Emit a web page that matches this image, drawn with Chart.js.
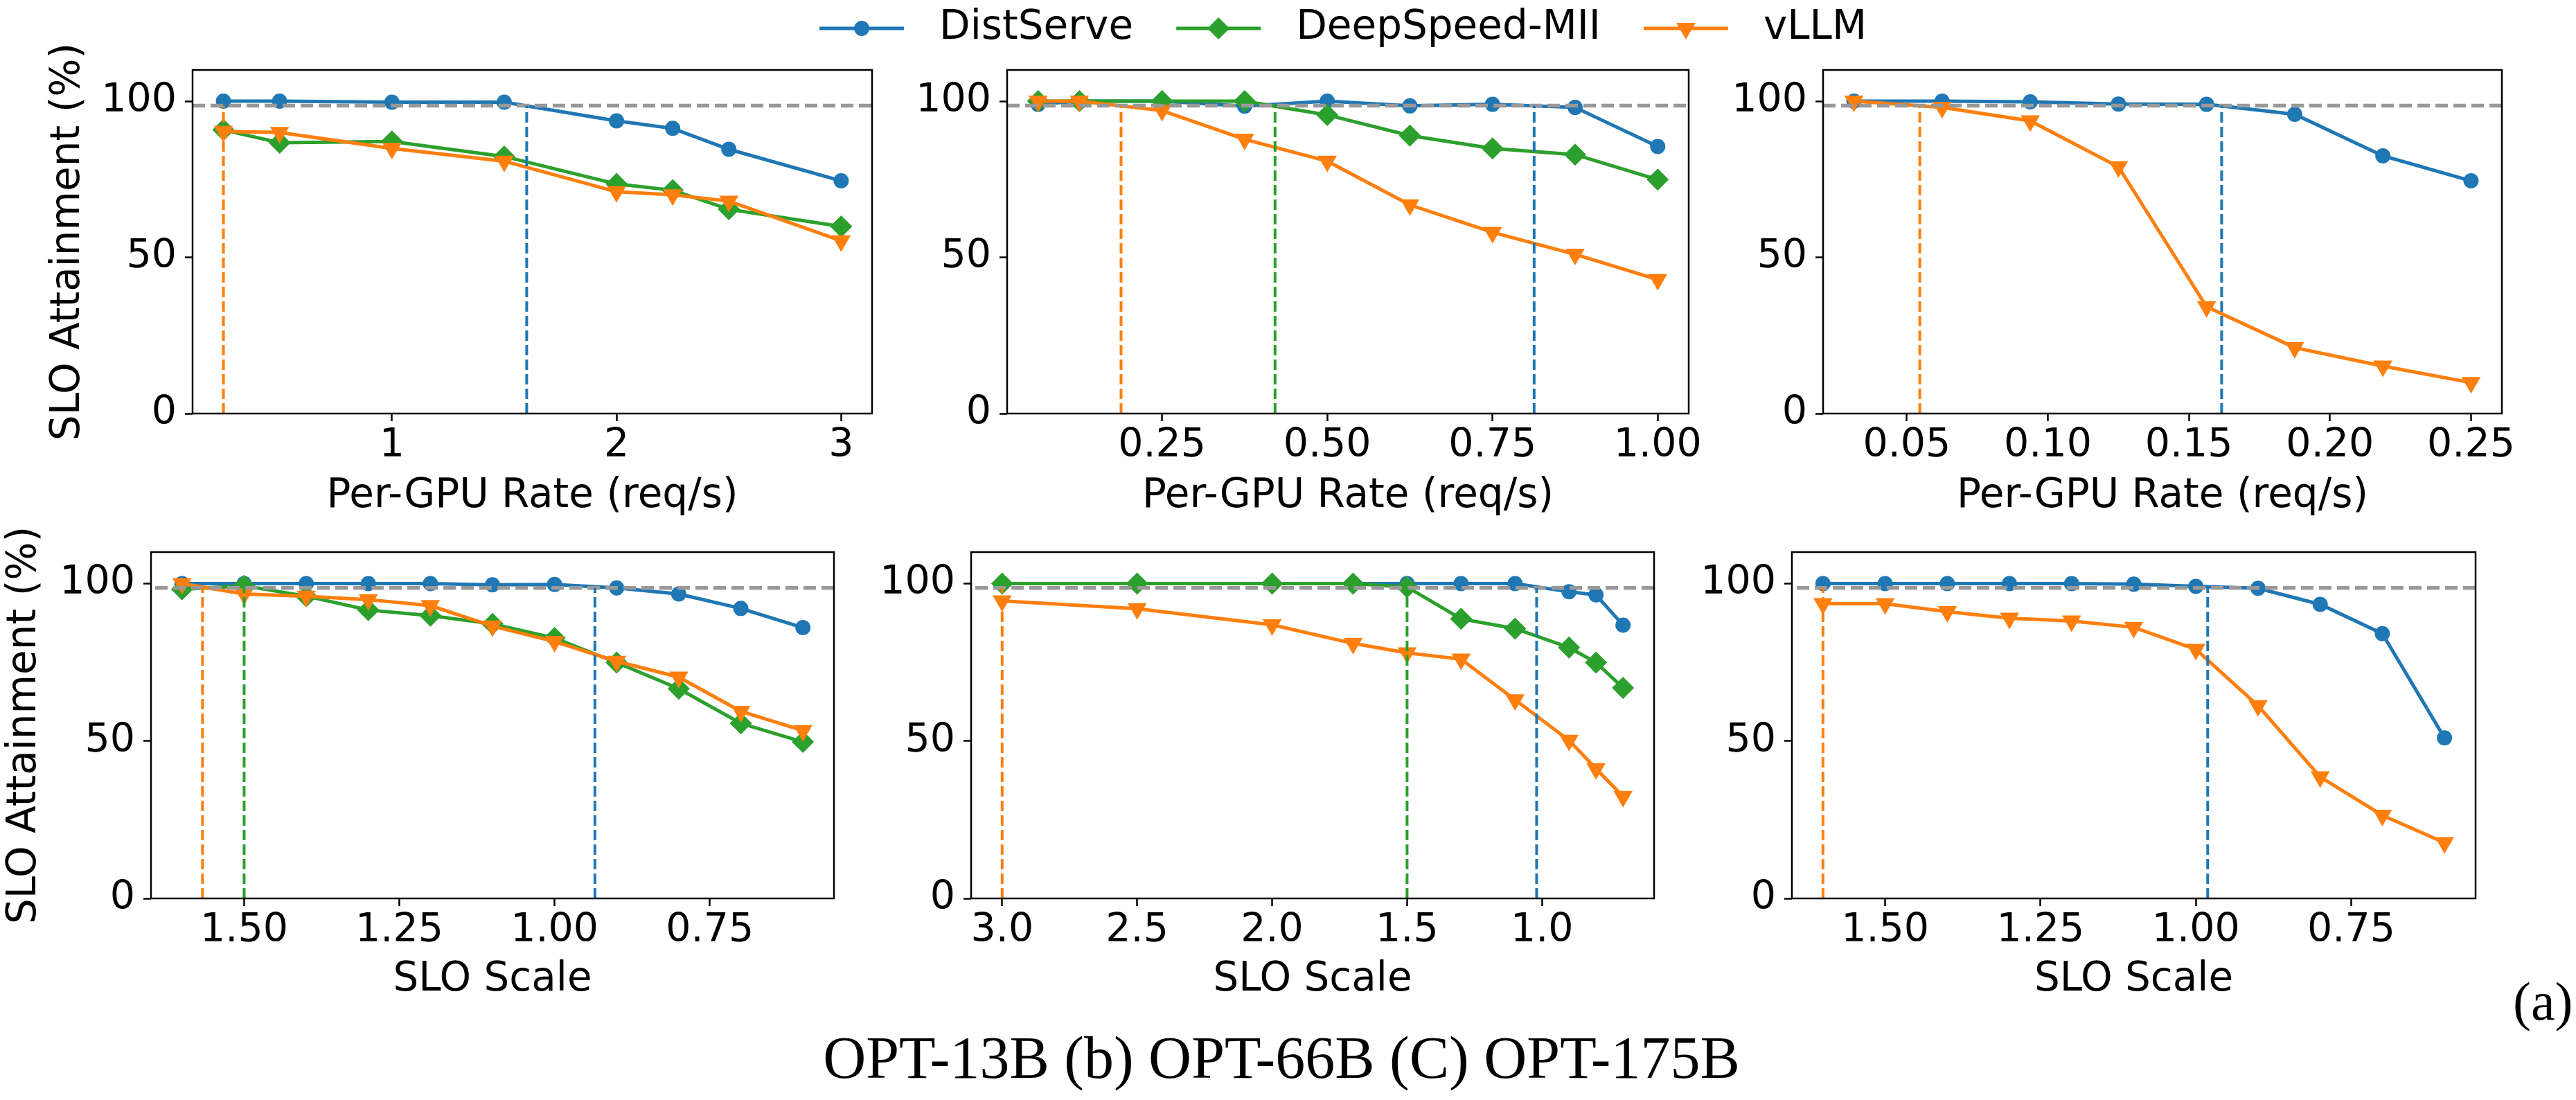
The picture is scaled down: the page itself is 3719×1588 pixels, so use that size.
<!DOCTYPE html>
<html>
<head>
<meta charset="utf-8">
<script src="https://cdn.jsdelivr.net/npm/chart.js@4.4.1/dist/chart.umd.min.js"></script>
<style>
  html, body { margin: 0; padding: 0; background: #fff; }
  body { width: 3719px; height: 1588px; position: relative; overflow: hidden; }
  .panel { position: absolute; }
  .caption { position: absolute; font-family: 'Liberation Serif', 'DejaVu Serif', serif; color: #000; line-height: 1; white-space: nowrap; }
</style>
</head>
<body>
<div class="caption" style="left:3628px; top:1407px; font-size:78px;">(a)</div>
<div class="caption" style="left:1850px; top:1484px; font-size:86px; transform:translateX(-50%);">OPT-13B (b) OPT-66B (C) OPT-175B</div>
<script>
const SERIES = ['DistServe', 'DeepSpeed-MII', 'vLLM'];
const COLORS = ['#1f77b4', '#2ca02c', '#ff7f0e'];
const SLO_TARGET = 98.6;
const yTickLabels = ['0', '50', '100'];

// OPT-13B, per-GPU rate
const rate13B = [0.25, 0.5, 1, 1.5, 2, 2.25, 2.5, 3];
const rate13BDist = [100, 100, 99.7, 99.7, 93.7, 91.3, 84.6, 74.5];
const rate13BDs = [90.8, 86.7, 87.1, 82.3, 73.5, 71.5, 65.4, 59.9];
const rate13BVllm = [90.3, 90.0, 84.9, 80.8, 71.0, 70.0, 68.0, 55.3];
const rate13BCut = [1.6, null, 0.25];
const rate13BTicks = ['1', '2', '3'];

// OPT-66B, per-GPU rate
const rate66B = [0.0625, 0.125, 0.25, 0.375, 0.5, 0.625, 0.75, 0.875, 1.0];
const rate66BDist = [99, 100, 100, 98.4, 100, 98.5, 99, 98, 85.5];
const rate66BDs = [100, 100, 100, 100, 95.6, 89, 84.9, 82.9, 74.9];
const rate66BVllm = [100, 100, 97, 87.8, 80.8, 66.8, 58, 51, 42.9];
const rate66BCut = [0.813, 0.421, 0.188];
const rate66BTicks = ['0.25', '0.50', '0.75', '1.00'];

// OPT-175B, per-GPU rate
const rate175B = [0.03125, 0.0625, 0.09375, 0.125, 0.15625, 0.1875, 0.21875, 0.25];
const rate175BDist = [100, 100, 99.8, 99.1, 99, 95.8, 82.5, 74.5];
const rate175BVllm = [100, 98, 93.7, 79, 34.2, 21.1, 15.2, 9.9];
const rate175BCut = [0.1616, null, 0.0546];
const rate175BTicks = ['0.05', '0.10', '0.15', '0.20', '0.25'];

// OPT-13B, SLO scale
const scale13B = [1.6, 1.5, 1.4, 1.3, 1.2, 1.1, 1.0, 0.9, 0.8, 0.7, 0.6];
const scale13BDist = [100, 100, 100, 100, 100, 99.6, 99.7, 98.6, 96.7, 92.1, 86];
const scale13BDs = [98.2, 99.3, 96, 91.6, 89.8, 87.2, 82.7, 74.9, 66.6, 55.6, 49.7];
const scale13BVllm = [100, 96.7, 96, 94.9, 93, 86.5, 81.6, 75.3, 70.3, 59.4, 53.3];
const scale13BCut = [0.935, 1.5, 1.567];
const scale13BTicks = ['1.50', '1.25', '1.00', '0.75'];

// OPT-66B, SLO scale
const scale66B = [3.0, 2.5, 2.0, 1.7, 1.5, 1.3, 1.1, 0.9, 0.8, 0.7];
const scale66BDist = [100, 100, 100, 100, 100, 100, 100, 97.4, 96.4, 86.8];
const scale66BDs = [100, 100, 100, 100, 98.9, 88.8, 85.7, 79.7, 74.9, 66.9];
const scale66BVllm = [94.5, 92, 86.9, 81, 78, 76, 63.1, 50.2, 41.2, 32.4];
const scale66BCut = [1.02, 1.5, 3.0];
const scale66BTicks = ['3.0', '2.5', '2.0', '1.5', '1.0'];

// OPT-175B, SLO scale
const scale175B = [1.6, 1.5, 1.4, 1.3, 1.2, 1.1, 1.0, 0.9, 0.8, 0.7, 0.6];
const scale175BDist = [100, 100, 100, 100, 100, 99.8, 99.1, 98.5, 93.4, 84.1, 51];
const scale175BVllm = [93.6, 93.6, 91.1, 89, 88.1, 86.1, 79.1, 61.2, 38.6, 26.4, 17.7];
const scale175BCut = [0.981, null, 1.6];
const scale175BTicks = ['1.50', '1.25', '1.00', '0.75'];

const MARKERS = [
    {style: 'circle', rotation: 0, radius: 11},
    {style: 'rectRot', rotation: 0, radius: 16},
    {style: 'triangle', rotation: 180, radius: 16},
];

Chart.defaults.font.family = "'DejaVu Sans', sans-serif";
Chart.defaults.color = '#000';

const RATE_TITLE = 'Per-GPU Rate (req/s)';
const SCALE_TITLE = 'SLO Scale';

// box = plot area [left, top, right, bottom] in page pixels
const panels = [
    {box: [278, 101, 1259, 597], x: rate13B, series: [rate13BDist, rate13BDs, rate13BVllm], cut: rate13BCut, ticks: rate13BTicks, xTitle: RATE_TITLE, yTitlePad: 64, xAxisH: 155},
    {box: [1454, 101, 2438, 597], x: rate66B, series: [rate66BDist, rate66BDs, rate66BVllm], cut: rate66BCut, ticks: rate66BTicks, xTitle: RATE_TITLE, xAxisH: 155},
    {box: [2632, 101, 3612, 597], x: rate175B, series: [rate175BDist, null, rate175BVllm], cut: rate175BCut, ticks: rate175BTicks, xTitle: RATE_TITLE, xAxisH: 155},
    {box: [218, 797, 1204, 1297], x: scale13B, series: [scale13BDist, scale13BDs, scale13BVllm], cut: scale13BCut, ticks: scale13BTicks, xTitle: SCALE_TITLE, yTitlePad: 1, xAxisH: 153, reverse: true},
    {box: [1402, 797, 2388, 1297], x: scale66B, series: [scale66BDist, scale66BDs, scale66BVllm], cut: scale66BCut, ticks: scale66BTicks, xTitle: SCALE_TITLE, xAxisH: 153, reverse: true},
    {box: [2587, 797, 3574, 1297], x: scale175B, series: [scale175BDist, null, scale175BVllm], cut: scale175BCut, ticks: scale175BTicks, xTitle: SCALE_TITLE, xAxisH: 153, reverse: true},
];

const frame = {
    id: 'frame',
    afterDatasetsDraw(chart) {
        const {ctx, chartArea: a} = chart;
        ctx.save();
        ctx.strokeStyle = '#000';
        ctx.lineWidth = 2.5;
        ctx.strokeRect(a.left, a.top, a.right - a.left, a.bottom - a.top);
        ctx.restore();
    }
};

function addCanvas(left, top, width, height) {
    const div = document.createElement('div');
    div.className = 'panel';
    div.style.left = left + 'px';
    div.style.top = top + 'px';
    div.style.width = width + 'px';
    div.style.height = height + 'px';
    const canvas = document.createElement('canvas');
    div.appendChild(canvas);
    document.body.appendChild(div);
    return canvas;
}

function makePanel(p) {
    const [left, top, right, bottom] = p.box;
    const hasYTitle = p.yTitlePad !== undefined;
    const axisW = hasYTitle ? left : 140;
    const padTop = 60, padRight = 40;
    const canvas = addCanvas(left - axisW, top - padTop, axisW + right - left + padRight, padTop + bottom - top + p.xAxisH);

    const lo = Math.min(...p.x), hi = Math.max(...p.x);
    const xMin = lo - 0.05 * (hi - lo);
    const xMax = hi + 0.05 * (hi - lo);

    const datasets = [];
    p.series.forEach((vals, i) => {
        if (!vals) return;
        datasets.push({
            label: SERIES[i],
            data: p.x.map((x, k) => ({x: x, y: vals[k]})),
            borderColor: COLORS[i],
            backgroundColor: COLORS[i],
            borderWidth: 5,
            pointStyle: MARKERS[i].style,
            pointRotation: MARKERS[i].rotation,
            pointRadius: MARKERS[i].radius,
            pointBackgroundColor: COLORS[i],
            pointBorderWidth: 0,
            tension: 0,
            order: 3 - i,
        });
    });
    // capacity markers: vertical dashes up to the attainment target
    p.cut.forEach((c, i) => {
        if (c === null) return;
        datasets.push({
            data: [{x: c, y: 0}, {x: c, y: SLO_TARGET}],
            borderColor: COLORS[i],
            borderWidth: 4,
            borderDash: [15, 6],
            pointRadius: 0,
            order: 0,
        });
    });
    datasets.push({
        data: [{x: xMin, y: SLO_TARGET}, {x: xMax, y: SLO_TARGET}],
        borderColor: '#999999',
        borderWidth: 5.5,
        borderDash: [18, 8],
        pointRadius: 0,
        order: 0,
    });

    const tickGrid = {drawOnChartArea: false, tickLength: 11, tickWidth: 2.5, tickColor: '#000'};

    return new Chart(canvas, {
        type: 'line',
        data: {datasets: datasets},
        options: {
            responsive: true,
            maintainAspectRatio: false,
            animation: false,
            events: [],
            layout: {padding: {top: padTop, right: padRight, bottom: 0, left: 0}},
            plugins: {legend: {display: false}, tooltip: {enabled: false}},
            scales: {
                x: {
                    type: 'linear',
                    min: xMin,
                    max: xMax,
                    reverse: !!p.reverse,
                    afterBuildTicks: s => { s.ticks = p.ticks.map(t => ({value: Number(t)})); },
                    afterFit: s => { s.height = p.xAxisH; },
                    border: {display: false},
                    grid: tickGrid,
                    ticks: {
                        padding: 2, maxRotation: 0, autoSkip: false, font: {size: 57},
                        callback: v => p.ticks[p.ticks.map(Number).indexOf(v)],
                    },
                    title: {display: true, text: p.xTitle, font: {size: 58}, padding: {top: 0, bottom: 0}},
                },
                y: {
                    type: 'linear',
                    min: 0,
                    max: 110,
                    afterBuildTicks: s => { s.ticks = yTickLabels.map(t => ({value: Number(t)})); },
                    afterFit: s => { s.width = axisW; },
                    border: {display: false},
                    grid: tickGrid,
                    ticks: {
                        padding: 12, font: {size: 57},
                        callback: v => yTickLabels[yTickLabels.map(Number).indexOf(v)],
                    },
                    title: {display: hasYTitle, text: 'SLO Attainment (%)', font: {size: 58}, padding: {top: p.yTitlePad || 0, bottom: 0}},
                },
            },
        },
        plugins: [frame],
    });
}

function makeLegend() {
    // tall canvas so the legend box is not cut to half the chart height
    const canvas = addCanvas(428, -28, 3000, 400);
    const handles = SERIES.map((s, i) => {
        const c = document.createElement('canvas');
        c.width = 166;
        c.height = 40;
        const g = c.getContext('2d');
        g.strokeStyle = COLORS[i];
        g.lineWidth = 5;
        g.beginPath();
        g.moveTo(22, 20);
        g.lineTo(144, 20);
        g.stroke();
        g.fillStyle = COLORS[i];
        Chart.helpers.drawPoint(g, {pointStyle: MARKERS[i].style, rotation: MARKERS[i].rotation, radius: MARKERS[i].radius, borderWidth: 0}, 83, 20);
        return c;
    });
    return new Chart(canvas, {
        type: 'line',
        data: {datasets: SERIES.map((s, i) => ({label: s, data: [], borderColor: COLORS[i]}))},
        options: {
            responsive: true,
            maintainAspectRatio: false,
            animation: false,
            events: [],
            layout: {padding: 0},
            scales: {x: {display: false}, y: {display: false}},
            plugins: {
                tooltip: {enabled: false},
                legend: {
                    display: true,
                    position: 'top',
                    labels: {
                        usePointStyle: true,
                        pointStyleWidth: 166,
                        boxHeight: 40,
                        padding: 40,
                        color: '#000',
                        font: {size: 58},
                        generateLabels: () => SERIES.map((s, i) => ({
                            text: s, pointStyle: handles[i], fillStyle: COLORS[i], strokeStyle: COLORS[i],
                            lineWidth: 0, hidden: false, datasetIndex: i,
                        })),
                    },
                },
            },
        },
    });
}

panels.forEach(makePanel);
makeLegend();
</script>
</body>
</html>
